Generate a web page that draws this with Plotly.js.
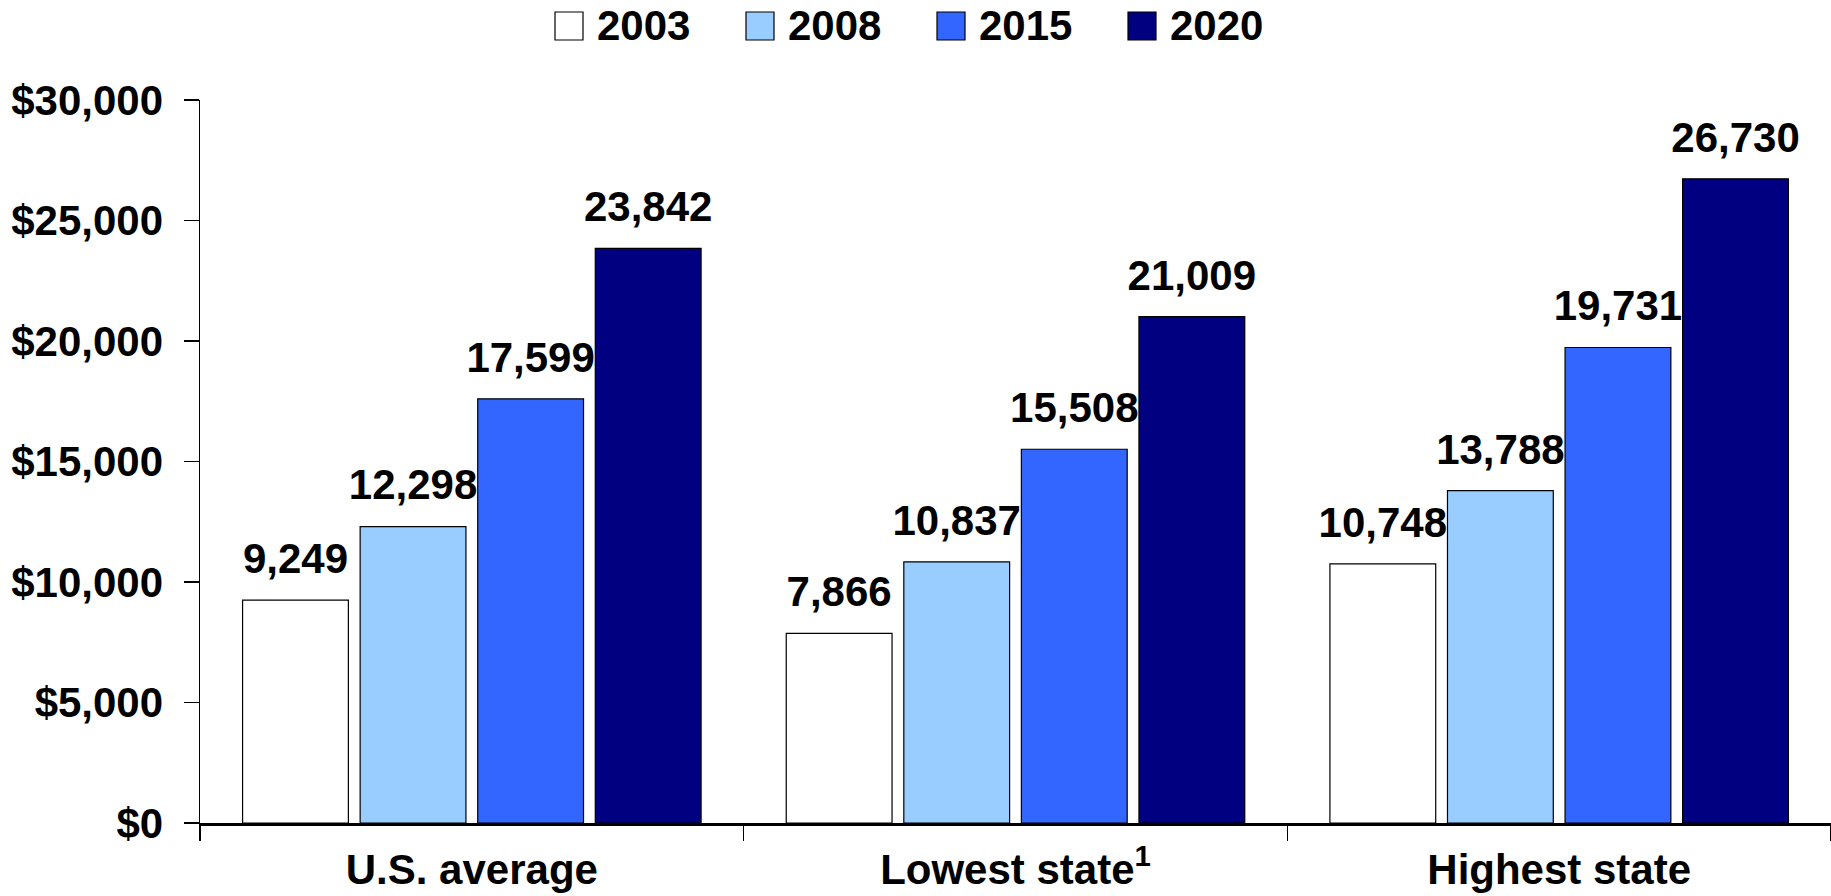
<!DOCTYPE html>
<html>
<head>
<meta charset="utf-8">
<script src="https://cdn.plot.ly/plotly-3.0.1.min.js"></script>
<style>html,body{margin:0;padding:0;background:#fff;}#chart{width:1831px;height:896px;}</style>
</head>
<body>
<div id="chart"></div>
<script>
const categories = ["U.S. average", "Lowest state<sup>1</sup>", "Highest state"];
const seriesNames = ["2003", "2008", "2015", "2020"];
const values2003 = [9249, 7866, 10748];
const values2008 = [12298, 10837, 13788];
const values2015 = [17599, 15508, 19731];
const values2020 = [23842, 21009, 26730];
const seriesColors = ["#FFFFFF", "#99CCFF", "#3366FF", "#000080"];
const yTicks = [0, 5000, 10000, 15000, 20000, 25000, 30000];
const yTickLabels = yTicks.map(v => "$" + v.toLocaleString("en-US"));

const allValues = [values2003, values2008, values2015, values2020];
const FONT = {family: "Arial, 'Liberation Sans', sans-serif", size: 42, color: "#000", weight: "bold"};
const GAP = 0.135;

// plot area in pixels (for placing the legend boxes)
const W = 1831, H = 896, ML = 200, MR = 0, MT = 100, MB = 73;
const PW = W - ML - MR, PH = H - MT - MB;
const px = x => (x - ML) / PW;
const py = y => (H - MB - y) / PH;

const traces = [];
allValues.forEach((vals, i) => {
  traces.push({
    type: "bar",
    name: seriesNames[i],
    x: categories,
    y: vals,
    offsetgroup: "g" + i,
    alignmentgroup: "a",
    marker: {color: seriesColors[i], line: {color: "#000", width: 1.2}},
    showlegend: false,
    hoverinfo: "skip"
  });
});
allValues.forEach((vals, i) => {
  traces.push({
    type: "scatter",
    mode: "markers+text",
    x: categories,
    y: vals,
    text: vals.map(v => v.toLocaleString("en-US")),
    textposition: "top center",
    textfont: FONT,
    marker: {size: 25, color: "rgba(0,0,0,0)"},
    offsetgroup: "g" + i,
    alignmentgroup: "a",
    showlegend: false,
    cliponaxis: false,
    hoverinfo: "skip"
  });
});

// legend drawn as boxes + labels so the swatches match the reference size
const LEG_X0 = 555, LEG_STEP = 191, SW = 28, LEG_TOP = 12, LEG_MID = 26;
const shapes = seriesNames.map((n, i) => ({
  type: "rect", xref: "paper", yref: "paper",
  x0: px(LEG_X0 + i * LEG_STEP), x1: px(LEG_X0 + i * LEG_STEP + SW),
  y0: py(LEG_TOP + SW), y1: py(LEG_TOP),
  fillcolor: seriesColors[i], line: {color: "#000", width: 1.2}
}));
const annotations = seriesNames.map((n, i) => ({
  xref: "paper", yref: "paper",
  x: px(LEG_X0 + i * LEG_STEP + SW + 12), y: py(LEG_MID),
  xanchor: "left", yanchor: "middle",
  text: n, showarrow: false, font: FONT
}));

const layout = {
  width: W, height: H,
  margin: {l: ML, r: MR, t: MT, b: MB},
  paper_bgcolor: "#fff", plot_bgcolor: "#fff",
  font: FONT,
  barmode: "group",
  bargap: GAP,
  bargroupgap: 0.1,
  scattermode: "group",
  scattergap: GAP,
  showlegend: false,
  shapes: shapes,
  annotations: annotations,
  xaxis: {
    type: "category",
    showline: true, linecolor: "#000", linewidth: 2.5,
    ticks: "outside", tickson: "boundaries", ticklen: 15, tickwidth: 1.5, tickcolor: "#000",
    ticklabelstandoff: 8,
    showgrid: false, zeroline: false,
    tickfont: FONT
  },
  yaxis: {
    range: [0, 30000],
    tickmode: "array",
    tickvals: yTicks,
    ticktext: yTickLabels,
    showline: true, linecolor: "#000", linewidth: 1.5,
    ticks: "outside", ticklen: 15, tickwidth: 1.5, tickcolor: "#000",
    ticklabelstandoff: 12,
    showgrid: false, zeroline: false,
    tickfont: FONT
  }
};

Plotly.newPlot("chart", traces, layout, {staticPlot: true, displayModeBar: false});
</script>
</body>
</html>
